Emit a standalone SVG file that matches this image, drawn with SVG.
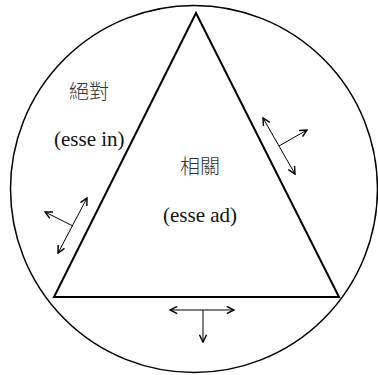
<svg xmlns="http://www.w3.org/2000/svg" width="378" height="375" viewBox="0 0 378 375">
<defs>
<style>
.shape{fill:none;stroke:#000}
.arr{fill:none;stroke:#000;stroke-width:1}
.lat{font-family:"Liberation Serif","Times New Roman",serif;font-size:21px;fill:#111}
.cjk{font-family:"Noto Sans CJK TC","Noto Sans CJK SC",sans-serif;font-size:20px;font-weight:300;fill:#333}
</style>
<marker id="ah" viewBox="0 0 10 10" refX="9" refY="5" markerWidth="9" markerHeight="9" markerUnits="userSpaceOnUse" orient="auto-start-reverse">
<path d="M1,1 L9,5 L1,9" fill="none" stroke="#000" stroke-width="1.6"/>
</marker>
</defs>
<rect width="378" height="375" fill="#fff"/>
<g id="circle"><circle class="shape" cx="194" cy="189" r="183.5" stroke-width="1.5"/></g>
<g id="triangle"><polygon class="shape" points="196,13 54,297 339,297" stroke-width="2"/></g>
<g id="absolute">
<text class="cjk" x="69" y="99">絕對</text>
<text class="lat" x="54" y="146">(esse in)</text>
</g>
<g id="relative">
<text class="cjk" x="180" y="174">相關</text>
<text class="lat" x="163" y="222">(esse ad)</text>
</g>
<g id="connectors">
<line class="arr" x1="263" y1="118" x2="295" y2="174" marker-start="url(#ah)" marker-end="url(#ah)"/>
<line class="arr" x1="279" y1="146" x2="307" y2="130" marker-end="url(#ah)"/>
<line class="arr" x1="87" y1="198" x2="58" y2="253" marker-start="url(#ah)" marker-end="url(#ah)"/>
<line class="arr" x1="73" y1="226" x2="45" y2="212" marker-end="url(#ah)"/>
<line class="arr" x1="170" y1="310" x2="234" y2="310" marker-start="url(#ah)" marker-end="url(#ah)"/>
<line class="arr" x1="203" y1="310" x2="203" y2="342" marker-end="url(#ah)"/>
</g>
</svg>
